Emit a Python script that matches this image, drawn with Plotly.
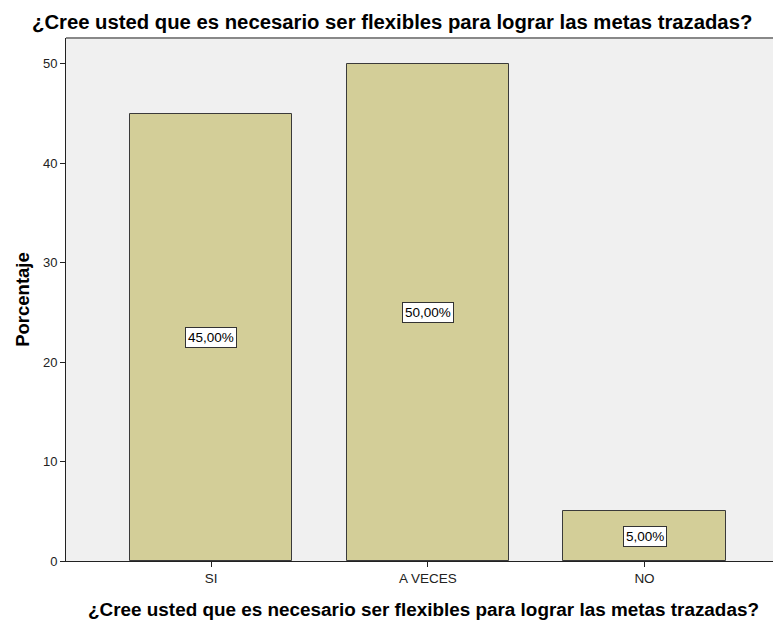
import plotly.graph_objects as go

categories = ["SI", "A VECES", "NO"]
percentages = [45.0, 50.0, 5.0]
labels = ["45,00%", "50,00%", "5,00%"]
title_text = "¿Cree usted que es necesario ser flexibles para lograr las metas trazadas?"

FONT = "Liberation Sans, Arial, sans-serif"

fig = go.Figure()
fig.add_trace(go.Bar(
    x=list(range(len(categories))),
    y=percentages,
    width=0.75,
    marker=dict(color="#D3CE98", line=dict(color="#3a3a3a", width=1)),
    hoverinfo="skip",
))

annotations = []
for i, (v, t) in enumerate(zip(percentages, labels)):
    annotations.append(dict(
        x=i, y=v / 2, xref="x", yref="y", text=t, showarrow=False,
        font=dict(family=FONT, size=13.5, color="#000"),
        bgcolor="white", bordercolor="#333", borderwidth=1, borderpad=2,
    ))

annotations.append(dict(
    x=0.456, y=1, xref="paper", yref="paper", xanchor="center", yanchor="bottom",
    yshift=3, text="<b>" + title_text + "</b>", showarrow=False,
    font=dict(family=FONT, size=20.3, color="#000"),
))

fig.update_layout(
    width=781, height=621,
    margin=dict(l=58, r=8, t=30, b=68),
    paper_bgcolor="white",
    plot_bgcolor="#F0F0F0",
    showlegend=False,
    annotations=annotations,
    bargap=0,
    shapes=[dict(type="line", xref="paper", yref="paper", x0=0, x1=1, y0=1, y1=1,
                 line=dict(color="#888888", width=2))],
    xaxis=dict(
        tickmode="array", tickvals=list(range(len(categories))), ticktext=categories,
        range=[-0.67, 2.63], showgrid=False, zeroline=False,
        showline=True, linecolor="#222", linewidth=1,
        ticks="outside", ticklen=5, tickcolor="#222",
        tickfont=dict(family=FONT, size=13.5, color="#222"),
        title=dict(text="<b>" + title_text + "</b>", standoff=17,
                   font=dict(family=FONT, size=18.9, color="#000")),
    ),
    yaxis=dict(
        range=[0, 52.6], tickvals=[0, 10, 20, 30, 40, 50],
        showgrid=False, zeroline=False,
        showline=True, linecolor="#222", linewidth=1,
        ticks="outside", ticklen=5, tickcolor="#222",
        tickfont=dict(family=FONT, size=13, color="#222"),
        title=dict(text="<b>Porcentaje</b>", standoff=8,
                   font=dict(family=FONT, size=18.5, color="#000")),
    ),
)

fig.write_html("out.html")
